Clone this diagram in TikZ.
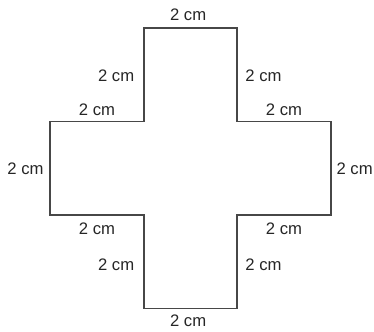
\documentclass[tikz,border=0pt]{standalone}
\usepackage{fontspec}
\setmainfont{Liberation Sans}
\tikzset{outline/.style={draw=black!72, line width=1.4pt, line join=miter},
  lbl/.style={font=\fontsize{12.5pt}{15pt}\selectfont, text=black!85, inner sep=0pt}}

\begin{document}
\begin{tikzpicture}[x=35.06pt,y=35.06pt]
  \useasboundingbox (-4.075,-3.50) rectangle (3.925,3.60);
  % corners of the cross
  \coordinate (t1) at (-1, 3); \coordinate (t2) at ( 1, 3);
  \coordinate (r1) at ( 1, 1); \coordinate (r2) at ( 3, 1);
  \coordinate (r3) at ( 3,-1); \coordinate (r4) at ( 1,-1);
  \coordinate (b1) at ( 1,-3); \coordinate (b2) at (-1,-3);
  \coordinate (l1) at (-1,-1); \coordinate (l2) at (-3,-1);
  \coordinate (l3) at (-3, 1); \coordinate (l4) at (-1, 1);
  \draw[outline] (t1) -- node[lbl, shift={(-0.05, 0.28)}]  (top) {2 cm}
    (t2) -- node[lbl, shift={( 0.56,-0.01)}] (ur)  {2 cm}
    (r1) -- node[lbl, shift={( 0.00, 0.26)}] (rt)  {2 cm}
    (r2) -- node[lbl, shift={( 0.51,-0.01)}] (rs)  {2 cm}
    (r3) -- node[lbl, shift={( 0.00,-0.29)}] (rb)  {2 cm}
    (r4) -- node[lbl, shift={( 0.56,-0.06)}] (lr)  {2 cm}
    (b1) -- node[lbl, shift={(-0.05,-0.26)}] (bot) {2 cm}
    (b2) -- node[lbl, shift={(-0.59,-0.06)}] (ll)  {2 cm}
    (l1) -- node[lbl, shift={( 0.00,-0.29)}] (lb)  {2 cm}
    (l2) -- node[lbl, shift={(-0.53,-0.01)}] (ls)  {2 cm}
    (l3) -- node[lbl, shift={( 0.00, 0.26)}] (lt)  {2 cm}
    (l4) -- node[lbl, shift={(-0.59,-0.01)}] (ul)  {2 cm}
    cycle;
\end{tikzpicture}
\end{document}
